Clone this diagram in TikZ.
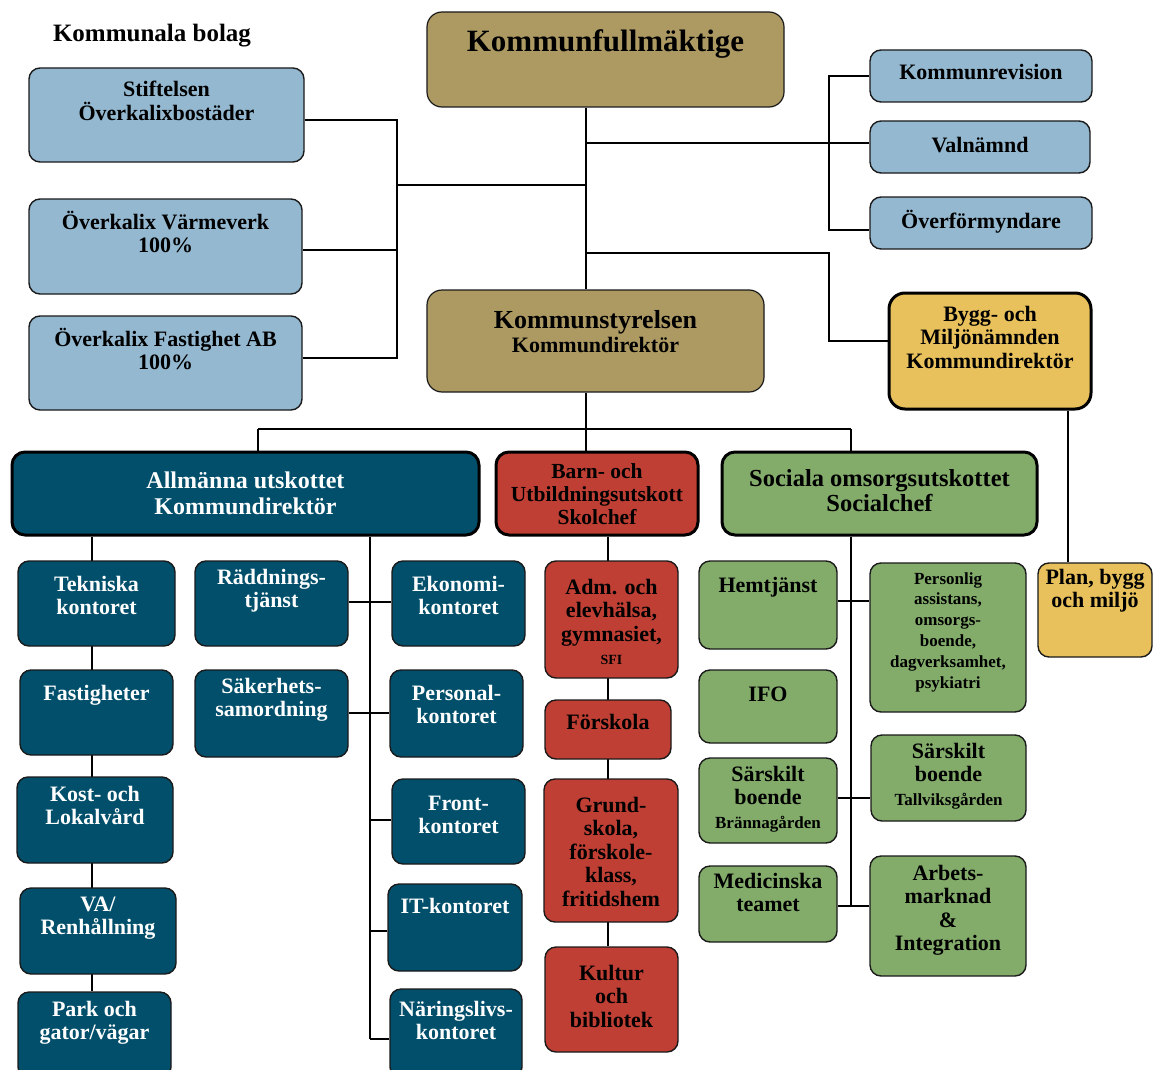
\documentclass[tikz,border=0pt]{standalone}
\usepackage{fontspec}
\setmainfont{Liberation Serif}
\pgfdeclarelayer{background}
\pgfsetlayers{background,main}
\definecolor{cTan}{HTML}{AD9A62}
\definecolor{cBlue}{HTML}{93B8D0}
\definecolor{cTeal}{HTML}{024F6B}
\definecolor{cRed}{HTML}{BF3F34}
\definecolor{cGreen}{HTML}{83AC6B}
\definecolor{cYel}{HTML}{E8C15C}
\definecolor{cLine}{HTML}{1A1A1A}
\tikzset{
  box/.style={draw=cLine, line width=1.4pt, rounded corners=11pt, inner sep=0pt},
  bigbox/.style={box, line width=3pt, draw=black, rounded corners=13pt},
  tanbox/.style={box, fill=cTan, line width=1.2pt, rounded corners=15pt},
  bluebox/.style={box, fill=cBlue},
  tealbox/.style={box, fill=cTeal},
  redbox/.style={box, fill=cRed},
  greenbox/.style={box, fill=cGreen},
  lbl/.style={anchor=base, inner sep=0pt, font=\bfseries\fontsize{22}{23.5}\selectfont},
  wlbl/.style={lbl, text=white},
  conn/.style={line width=2.6pt, black},
}
% #1 box style, #2 name, #3 x1, #4 y1, #5 x2, #6 y2, #7 first baseline y, #8 text, #9 label style
\newcommand\bx[9]{%
  \node[#1, minimum width={#5-#3}, minimum height={#6-#4}] (#2) at ({(#3+#5)/2},{(#4+#6)/2}) {};
  \node[#9] (#2-t) at ({(#3+#5)/2},#7) {\parbox[t]{\dimexpr #5pt-#3pt\relax}{\centering #8}};}
\newcommand\smallf{\fontsize{17}{20.8}\selectfont}
\begin{document}
\begin{tikzpicture}[x=1pt,y=-1pt]
\useasboundingbox (0,0) rectangle (1153,1070);
% top
\node[lbl, font=\bfseries\fontsize{25}{27}\selectfont] (bolag) at (152,42) {Kommunala bolag};
\bx{tanbox}{KF}{427}{12}{784}{107}{52}{Kommunfullmäktige}{lbl, font=\bfseries\fontsize{31}{33}\selectfont}
\bx{bluebox}{Stift}{29}{68}{304}{162}{97}{Stiftelsen\\Överkalixbostäder}{lbl}
\bx{bluebox}{Varm}{29}{199}{302}{294}{229}{Överkalix Värmeverk\\100\%}{lbl}
\bx{bluebox}{Fast}{29}{316}{302}{410}{346}{Överkalix Fastighet AB\\100\%}{lbl}
\bx{bluebox}{Krev}{870}{50}{1092}{102}{80}{Kommunrevision}{lbl}
\bx{bluebox}{Valn}{870}{121}{1090}{173}{153}{Valnämnd}{lbl}
\bx{bluebox}{Overf}{870}{197}{1092}{249}{228}{Överförmyndare}{lbl}
\bx{bigbox, fill=cYel, rounded corners=16pt}{Bygg}{889}{293}{1091}{409}{321}{Bygg- och\\Miljönämnden\\Kommundirektör}{lbl}
\bx{tanbox}{KS}{427}{290}{764}{392}{328}{Kommunstyrelsen}{lbl, font=\bfseries\fontsize{26}{28}\selectfont}
\node[lbl] (KS-t2) at (595.5,352) {Kommundirektör};
% level 2
\bx{bigbox, fill=cTeal}{Allm}{12}{452}{479}{535}{488}{Allmänna utskottet\\Kommundirektör}{wlbl, font=\bfseries\fontsize{24}{26.5}\selectfont}
\bx{bigbox, fill=cRed}{Barn}{496}{452}{698}{535}{478}{Barn- och\\Utbildningsutskott\\Skolchef}{lbl, font=\bfseries\fontsize{21.5}{23}\selectfont}
\bx{bigbox, fill=cGreen}{Soc}{722}{452}{1037}{535}{486}{Sociala omsorgsutskottet\\Socialchef}{lbl, font=\bfseries\fontsize{24.5}{25}\selectfont}
% teal children
\bx{tealbox}{Tek}{18}{561}{175}{646}{591}{Tekniska\\kontoret}{wlbl}
\bx{tealbox}{Fastig}{20}{670}{173}{755}{700}{Fastigheter}{wlbl}
\bx{tealbox}{Kost}{17}{777}{173}{863}{801}{Kost- och\\Lokalvård}{wlbl}
\bx{tealbox}{VA}{20}{888}{176}{974}{911}{VA/\\Renhållning}{wlbl}
\bx{tealbox}{Park}{18}{992}{171}{1078}{1016}{Park och\\gator/vägar}{wlbl}
\bx{tealbox}{Radd}{195}{561}{348}{646}{584}{Räddnings-\\tjänst}{wlbl}
\bx{tealbox}{Sak}{195}{670}{348}{757}{693}{Säkerhets-\\samordning}{wlbl}
\bx{tealbox}{Ekon}{392}{561}{525}{646}{591}{Ekonomi-\\kontoret}{wlbl}
\bx{tealbox}{Pers}{390}{670}{523}{757}{700}{Personal-\\kontoret}{wlbl}
\bx{tealbox}{Front}{392}{779}{525}{864}{810}{Front-\\kontoret}{wlbl}
\bx{tealbox}{IT}{388}{884}{522}{971}{913}{IT-kontoret}{wlbl}
\bx{tealbox}{Nar}{390}{989}{522}{1078}{1016}{Näringslivs-\\kontoret}{wlbl}
% red children
\bx{redbox}{Adm}{545}{561}{678}{678}{594}{Adm. och\\elevhälsa,\\gymnasiet,\\{\fontsize{14}{22}\selectfont SFI}}{lbl}
\bx{redbox}{Forsk}{545}{700}{671}{759}{729}{Förskola}{lbl}
\bx{redbox}{Grund}{544}{779}{678}{922}{812}{Grund-\\skola,\\förskole-\\klass,\\fritidshem}{lbl}
\bx{redbox}{Kult}{545}{947}{678}{1052}{980}{Kultur\\och\\bibliotek}{lbl}
% green children
\bx{greenbox}{Hemt}{699}{561}{837}{649}{592}{Hemtjänst}{lbl}
\bx{greenbox}{Pass}{870}{563}{1026}{712}{584}{Personlig\\assistans,\\omsorgs-\\boende,\\dagverksamhet,\\psykiatri}{lbl, font=\bfseries\fontsize{17}{20.8}\selectfont}
\bx{greenbox}{IFO}{699}{670}{837}{743}{701}{IFO}{lbl}
\bx{greenbox}{SarB}{699}{758}{837}{843}{781}{Särskilt\\boende\\{\smallf Brännagården}}{lbl}
\bx{greenbox}{SarT}{871}{735}{1026}{821}{758}{Särskilt\\boende\\{\smallf Tallviksgården}}{lbl}
\bx{greenbox}{Med}{699}{866}{837}{942}{888}{Medicinska\\teamet}{lbl}
\bx{greenbox}{Arb}{870}{856}{1026}{976}{880}{Arbets-\\marknad\\\&\\Integration}{lbl}
% yellow child
\bx{box, fill=cYel}{Plan}{1038}{563}{1152}{657}{584}{Plan, bygg\\och miljö}{lbl}
% junction coordinates
\coordinate (tx) at (586,0);
\coordinate (bb1) at (397,120);
\coordinate (bb2) at (397,185);
\coordinate (bb3) at (397,358);
\coordinate (bv) at (397,250);
\coordinate (vr1) at (829,143);
\coordinate (kr) at (829,76);
\coordinate (ov) at (829,230);
\coordinate (by1) at (829,253);
\coordinate (by2) at (829,341);
\coordinate (px) at (1068,0);
\coordinate (h1) at (258,429);
\coordinate (h3) at (851,429);
\coordinate (lx) at (92,0);
\coordinate (rx) at (370,0);
\coordinate (e1) at (370,602);
\coordinate (e2) at (370,713);
\coordinate (e3) at (370,820);
\coordinate (e4) at (370,931);
\coordinate (e5) at (370,1039);
\coordinate (bx) at (608,0);
\coordinate (sx) at (851,0);
\coordinate (s1) at (851,601);
\coordinate (s2) at (851,798);
\coordinate (s3) at (851,906);
\begin{pgfonlayer}{background}
\draw[conn] (KF.south -| tx) -- (KS.north -| tx);
\draw[conn] (Stift.east |- bb1) -- (bb1) -- (bb3) -- (Fast.east |- bb3);
\draw[conn] (Varm.east |- bv) -- (bv);
\draw[conn] (bb2) -- (bb2 -| tx);
\draw[conn] (tx |- vr1) -- (Valn.west |- vr1);
\draw[conn] (Krev.west |- kr) -- (kr) -- (ov) -- (Overf.west |- ov);
\draw[conn] (tx |- by1) -- (by1) -- (by2) -- (Bygg.west |- by2);
\draw[conn] (Bygg.south -| px) -- (Plan.north -| px);
\draw[conn] (KS.south -| tx) -- (Barn.north -| tx);
\draw[conn] (h1) -- (h3);
\draw[conn] (h1) -- (Allm.north -| h1);
\draw[conn] (h3) -- (Soc.north -| h3);
\draw[conn] (Allm.south -| lx) -- (Park.north -| lx);
\draw[conn] (Allm.south -| rx) -- (e5);
\draw[conn] (Radd.east |- e1) -- (Ekon.west |- e1);
\draw[conn] (Sak.east |- e2) -- (Pers.west |- e2);
\draw[conn] (e3) -- (Front.west |- e3);
\draw[conn] (e4) -- (IT.west |- e4);
\draw[conn] (e5) -- (Nar.west |- e5);
\draw[conn] (Barn.south -| bx) -- (Kult.north -| bx);
\draw[conn] (Soc.south -| sx) -- (s3);
\draw[conn] (Hemt.east |- s1) -- (Pass.west |- s1);
\draw[conn] (SarB.east |- s2) -- (SarT.west |- s2);
\draw[conn] (Med.east |- s3) -- (Arb.west |- s3);
\end{pgfonlayer}
\end{tikzpicture}
\end{document}
